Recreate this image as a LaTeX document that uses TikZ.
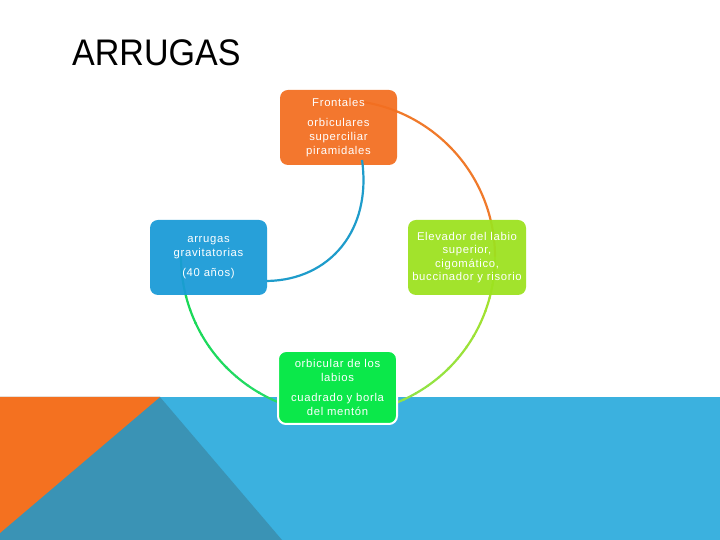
\documentclass[tikz,border=0pt]{standalone}
\usepackage{fontspec}
\setmainfont{Liberation Sans}
\newfontfamily\boxfont[LetterSpace=6]{Liberation Sans}
\definecolor{bandblue}{HTML}{3BB1DF}
\definecolor{darkband}{HTML}{3A93B5}
\definecolor{orangeband}{HTML}{F47120}
\definecolor{forange}{HTML}{F36F21}
\definecolor{flime}{HTML}{9DE21F}
\definecolor{fblue}{HTML}{1A9BD7}
\definecolor{fgreen}{HTML}{0BE84A}
\definecolor{lorange}{HTML}{F07A2B}
\definecolor{limeA}{HTML}{A8E228}
\definecolor{limeB}{HTML}{86E354}
\definecolor{greenA}{HTML}{2ADC6E}
\definecolor{greenB}{HTML}{16D852}
\definecolor{lblue}{HTML}{1E9CCB}
\tikzset{
  box/.style={rounded corners=8pt, minimum height=75pt, text=white, align=center,
    inner sep=0pt, font=\boxfont\fontsize{11.3}{14.2}\selectfont, fill opacity=0.94, text opacity=1},
  conn/.style={line width=2.2pt}
}
\begin{document}
\begin{tikzpicture}[x=1pt,y=1pt]
\useasboundingbox (0,0) rectangle (720,540);
\fill[white] (0,0) rectangle (720,540);
% bottom band
\fill[bandblue] (0,0) rectangle (720,143);
\fill[darkband] (0,143) -- (160,143) -- (282,0) -- (0,0) -- cycle;
\fill[orangeband] (0,143) -- (160,143) -- (0,7) -- cycle;
% title
\node[anchor=base west, inner sep=0pt, font=\fontsize{37}{40}\selectfont] (title) at (72,474) {\scalebox{0.92}[1]{ARRUGAS}};
% circle center
\coordinate (C) at (338,283);
% orange arc
\draw[conn, lorange] (C) ++(90:157) arc[start angle=90, end angle=0, radius=157];
% lime arc (gradient)
\foreach \i in {0,...,17} {
  \pgfmathsetmacro\p{100-100*\i/17}
  \draw[conn, color=limeA!\p!limeB] (C) ++(-5*\i:157) arc[start angle=-5*\i, end angle=-5*\i-5.4, radius=157];
}
% green arc (gradient)
\foreach \i in {0,...,17} {
  \pgfmathsetmacro\p{100-100*\i/17}
  \draw[conn, color=greenA!\p!greenB] (C) ++(-90-5*\i:157) arc[start angle=-90-5*\i, end angle=-95.4-5*\i, radius=157];
}
% boxes
\node[box, fill=forange, minimum width=117pt] (fr) at (338.5,412.5)
  {Frontales\\[6pt]orbiculares\\superciliar\\piramidales};
\node[box, fill=flime, minimum width=118pt, font=\boxfont\fontsize{11.3}{13.2}\selectfont] (el) at (467,282.5)
  {Elevador del labio\\superior,\\cigomático,\\buccinador y risorio};
\node[box, fill=fblue, minimum width=117pt] (ar) at (208.5,282.5)
  {arrugas\\gravitatorias\\[5pt](40 años)};
% blue connector
\coordinate (b0) at (362,380);
\coordinate (b1) at (267,259);
\draw[conn, lblue] (b0) .. controls (372,310) and (330,260) .. (b1);
\node[box, fill=fgreen, fill opacity=1, draw=white, line width=2pt, minimum width=119pt, minimum height=73pt] (or) at (337.5,152.5)
  {orbicular de los\\labios\\[6pt]cuadrado y borla\\del mentón};
\end{tikzpicture}
\end{document}
